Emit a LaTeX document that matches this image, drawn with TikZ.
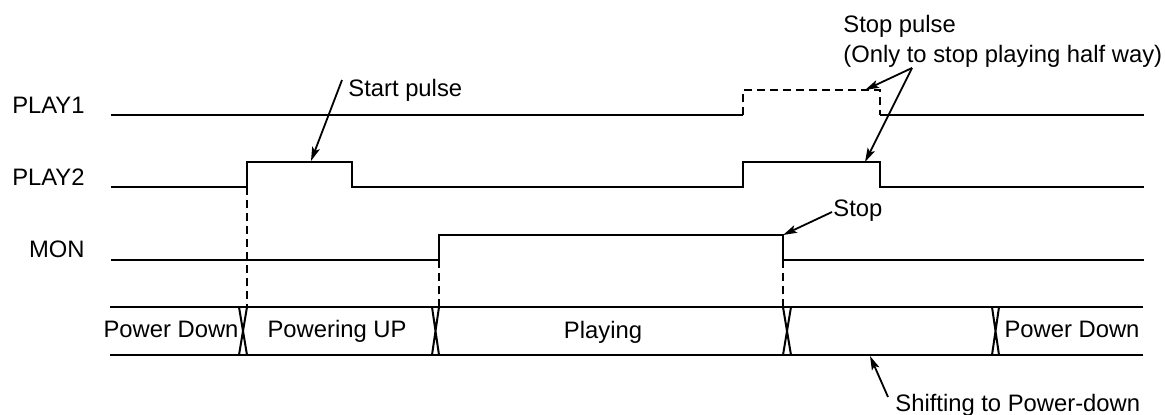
\documentclass[tikz,border=0pt]{standalone}
\usepackage{fontspec}
\setmainfont{Liberation Sans}
\usetikzlibrary{calc,positioning,arrows.meta}
\tikzset{
  wave/.style={
      draw,
      line width=1pt,
  },
  wavedashed/.style={
      wave,
      dash pattern=on 4pt off 2.5pt,
  },
  siglabel/.style={
      anchor=base east,
      inner sep=0pt,
  },
  buslabel/.style={
      anchor=base,
      inner sep=0pt,
  },
  note/.style={
      anchor=base west,
      inner sep=0pt,
  },
  pointer/.style={
      ->,
      >={Stealth[length=7pt,width=4pt,inset=1.5pt]},
      line width=0.9pt,
  },
}

\begin{document}
\begin{tikzpicture}[x=0.5pt,y=-0.5pt,font=\fontsize{11.9}{15}\selectfont]
  \useasboundingbox (0,0) rectangle (1165,414);
  % signal names
  \node[siglabel] (play1) at (85,113) {PLAY1};
  \node[siglabel] (play2) at (85,185) {PLAY2};
  \node[siglabel] (mon) at (85,257) {MON};
  % PLAY1
  \draw[wave] (111,115) -- (743,115);
  \draw[wavedashed] (743,115) -- (743,90) -- (880,90) -- (880,115);
  \draw[wave] (880,115) -- (1144,115);
  % PLAY2
  \draw[wave] (111,187) -- (247,187) -- (247,162) -- (352,162) -- (352,187)
    -- (743,187) -- (743,162) -- (880,162) -- (880,187) -- (1144,187);
  % MON
  \draw[wave] (111,260) -- (439,260) -- (439,235) -- (783,235) -- (783,260)
    -- (1144,260);
  % guide lines down to the state bus
  \foreach \gx/\gy in {247/187,439/260,783/260}
    \draw[wavedashed] (\gx,\gy) -- (\gx,307);
  % state bus
  \draw[wave] (110,307) -- (1143,307) (110,355) -- (1143,355);
  \foreach \xa/\xb in {239/247,432/439,783/791,992/999}
    \draw[wave] (\xa,307) -- (\xb,355) (\xb,307) -- (\xa,355);
  \node[buslabel] (pdown1) at (171,337) {Power Down};
  \node[buslabel] (pwrup) at (337,337) {Powering UP};
  \node[buslabel] (playing) at (603,338) {Playing};
  \node[buslabel] (pdown2) at (1072,337) {Power Down};
  % notes
  \node[note] (startlbl) at (348,96) {Start pulse};
  \coordinate (startpt) at (311,161);
  \draw[pointer] ($(startlbl.base west)+(-6,-16)$) -- (startpt);

  \node[note,anchor=north west,align=left] (stoppulse) at (843,15)
    {Stop pulse\\(Only to stop playing half way)};
  \coordinate (stopfork) at ($(stoppulse.south west)+(69,0)$);
  \coordinate (dashtop) at (865,90);
  \coordinate (play2top) at (865,162);
  \draw[pointer] (stopfork) -- (dashtop);
  \draw[pointer] (stopfork) -- (play2top);

  \node[note] (stoplbl) at (833,216) {Stop};
  \coordinate (monfall) at (783,235);
  \draw[pointer] ($(stoplbl.base west)+(-1,-4)$) -- (monfall);

  \node[note] (shiftlbl) at (895,411) {Shifting to Power-down};
  \coordinate (busbottom) at (870,356);
  \draw[pointer] ($(shiftlbl.base west)+(-7,-14)$) -- (busbottom);
\end{tikzpicture}
\end{document}
